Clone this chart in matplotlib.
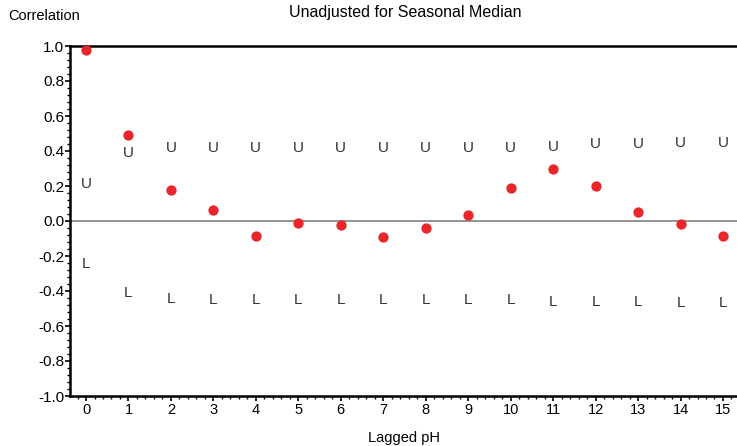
import matplotlib
matplotlib.use("Agg")
import matplotlib.pyplot as plt
from matplotlib.ticker import MultipleLocator, FormatStrFormatter
from matplotlib import font_manager

# lags and correlation values
lags = list(range(16))
corr = [0.98, 0.49, 0.177, 0.063, -0.086, -0.010, -0.025, -0.093,
        -0.042, 0.033, 0.187, 0.297, 0.202, 0.050, -0.019, -0.086]
upper = [0.21, 0.387, 0.415, 0.415, 0.415, 0.415, 0.415, 0.42,
         0.42, 0.42, 0.42, 0.425, 0.44, 0.44, 0.444, 0.444]
lower = [-0.246, -0.413, -0.446, -0.45, -0.45, -0.45, -0.45, -0.45,
         -0.45, -0.45, -0.45, -0.46, -0.463, -0.463, -0.467, -0.467]
xticks = list(range(16))
yticks = [-1.0, -0.8, -0.6, -0.4, -0.2, 0.0, 0.2, 0.4, 0.6, 0.8, 1.0]

names = set(f.name for f in font_manager.fontManager.ttflist)
base = "Liberation Sans" if "Liberation Sans" in names else "DejaVu Sans"
plt.rcParams['font.family'] = [base, 'DejaVu Sans']

fig = plt.figure(figsize=(7.37, 4.46), dpi=100)
ax = fig.add_axes([70/737, 50/446, 667/737, 350/446])

ax.axhline(0, color="#808080", lw=1.2, zorder=1)
ax.scatter(lags, corr, s=55, color="#e8262b", zorder=3, linewidths=0)
for x, u, l in zip(lags, upper, lower):
    ax.text(x, u, "U", ha="center", va="center", fontsize=11,
            color="#333333", fontweight="light")
    ax.text(x, l, "L", ha="center", va="center", fontsize=11,
            color="#333333", fontweight="light")

ax.set_xlim(-0.377, 15.33)
ax.set_ylim(-1.0, 1.0)
ax.set_xticks(xticks)
ax.set_yticks(yticks)
ax.yaxis.set_major_formatter(FormatStrFormatter("%.1f"))
ax.xaxis.set_minor_locator(MultipleLocator(0.2))
ax.yaxis.set_minor_locator(MultipleLocator(0.04))
ax.tick_params(which="major", length=3.5, width=1.2, labelsize=10.5, pad=1.5)
ax.tick_params(axis="y", which="major", labelsize=11, pad=0.5)
ax.tick_params(which="minor", length=2.5, width=1)
ax.spines['right'].set_visible(False)
for s in ['left', 'bottom', 'top']:
    ax.spines[s].set_linewidth(1.8)

ax.set_xlabel("Lagged pH", fontsize=10.5, labelpad=10)
fig.text(8/737, 1 - 16/446, "Correlation", fontsize=10.5, va="center", ha="left")
fig.text(405/737, 1 - 12/446, "Unadjusted for Seasonal Median",
         fontsize=11.5, ha="center", va="center")

fig.savefig("out.png", dpi=100)
